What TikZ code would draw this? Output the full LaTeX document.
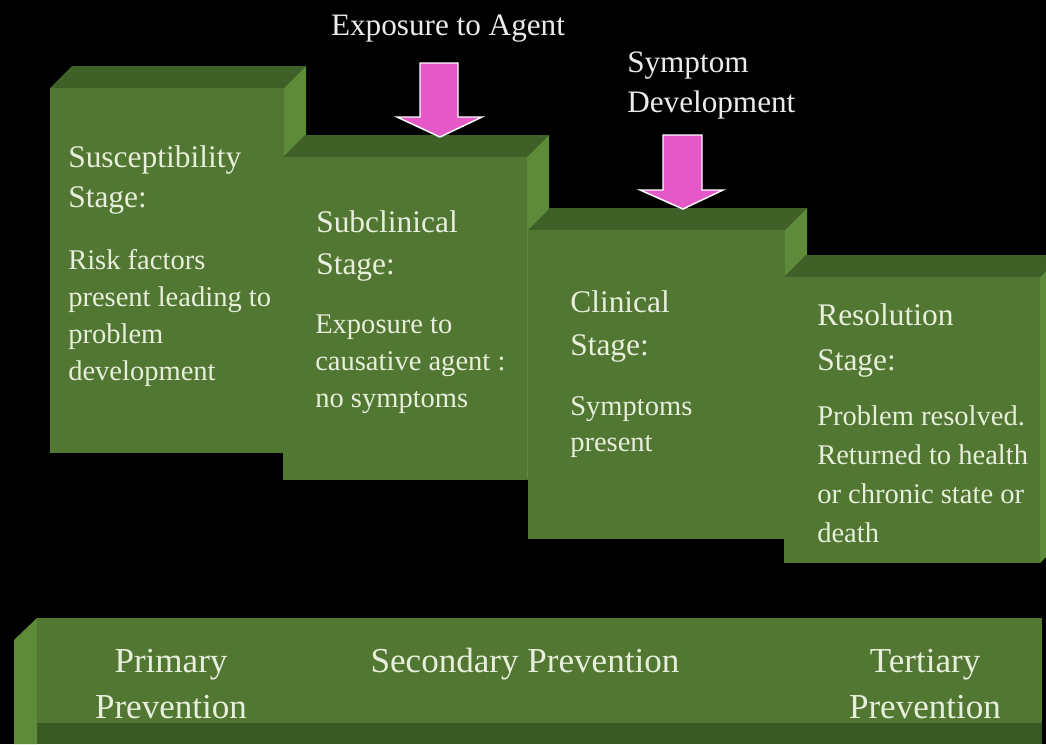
\documentclass[tikz,border=0pt]{standalone}
\usepackage{fontspec}
\setmainfont{Liberation Serif}
\definecolor{boxfront}{RGB}{81,119,50}
\definecolor{boxtop}{RGB}{63,96,39}
\definecolor{boxside}{RGB}{94,139,58}
\definecolor{boxbottom}{RGB}{58,88,36}
\definecolor{labeltext}{RGB}{232,238,220}
\definecolor{arrowfill}{RGB}{228,88,200}
% A stage block: front face from (x1,y1) to (x2,y2), with top and right faces
\newcommand\stageblock[5]{%
  \fill[boxtop] (#1,#2) -- (#1+22,#2-22) -- (#3+22,#2-22) -- (#3,#2) -- cycle;
  \fill[boxside] (#3,#2) -- (#3+22,#2-22) -- (#3+22,#4-22) -- (#3,#4) -- cycle;
  \fill[boxfront] (#1,#2) rectangle (#3,#4);
  \coordinate (#5) at ({(#1+#3)/2},{(#2+#4)/2});}
\begin{document}
\begin{tikzpicture}[x=0.75pt,y=-0.75pt,
  % multi-line labels are placed by the baseline of their last line
  headtext/.style={text=labeltext, inner sep=0pt, align=left, anchor=base west,
    font=\fontsize{23.6}{#1}\selectfont},
  bodytext/.style={text=labeltext, inner sep=0pt, align=left, anchor=base west,
    font=\fontsize{21.4}{#1}\selectfont},
  bartext/.style={text=labeltext, inner sep=0pt, align=center, anchor=base,
    font=\fontsize{26.3}{34.5}\selectfont},
  toptext/.style={text=white!92!black, inner sep=0pt, align=left, anchor=base west,
    font=\fontsize{23.4}{30}\selectfont},
  downarrow/.style={fill=arrowfill, draw=white, line width=1.1pt, line join=miter}]
\fill[black] (0,0) rectangle (1046,744);
\useasboundingbox (0,0) rectangle (1046,744);
\begin{scope}
\clip (0,0) rectangle (1046,744);

% prevention bar along the bottom
\fill[boxbottom] (37,723) -- (1042,723) -- (1042,744) -- (37,744) -- cycle;
\fill[boxside] (14,640) -- (37,618) -- (37,744) -- (14,744) -- cycle;
\fill[boxfront] (37,618) rectangle (1042,723);
\coordinate (bar) at (540,670);

% the four stages, stepping down to the right
\stageblock{50}{88}{284}{453}{s1}
\stageblock{283}{157}{527}{480}{s2}
\stageblock{528}{230}{785}{539}{s3}
\stageblock{784}{277}{1040}{563}{s4}
\end{scope}

% stage labels
\node[headtext=30] (h1) at (68,207) {Susceptibility\\Stage:};
\node[bodytext=27.75] (b1) at (68,380) {Risk factors\\present leading to\\problem\\development};

\node[headtext=31.5] (h2) at (316,274) {Subclinical\\Stage:};
\node[bodytext=27.75] (b2) at (315,407) {Exposure to\\causative agent :\\no symptoms};

\node[headtext=32.25] (h3) at (570,355) {Clinical\\Stage:};
\node[bodytext=27] (b3) at (570,451) {Symptoms\\present};

\node[headtext=33.75] (h4) at (817,370) {Resolution\\Stage:};
\node[bodytext=29.25] (b4) at (817,542) {Problem resolved.\\Returned to health\\or chronic state or\\death};

% prevention levels
\node[bartext] (p1) at (171,718) {Primary\\Prevention};
\node[bartext] (p2) at (525,672) {Secondary Prevention};
\node[bartext] (p3) at (925,718) {Tertiary\\Prevention};

% events and their arrows
\node[toptext, anchor=base] (ev1) at (448,35) {Exposure to Agent};
\node[toptext] (ev2) at (627,112) {Symptom\\Development};

\draw[downarrow] (420,63) -- (458,63) -- (458,117) -- (482,117) -- (440,137)
  -- (397,117) -- (420,117) -- cycle;
\draw[downarrow] (663,135) -- (702,135) -- (702,190) -- (723,190) -- (683,209)
  -- (640,190) -- (663,190) -- cycle;
\end{tikzpicture}
\end{document}
